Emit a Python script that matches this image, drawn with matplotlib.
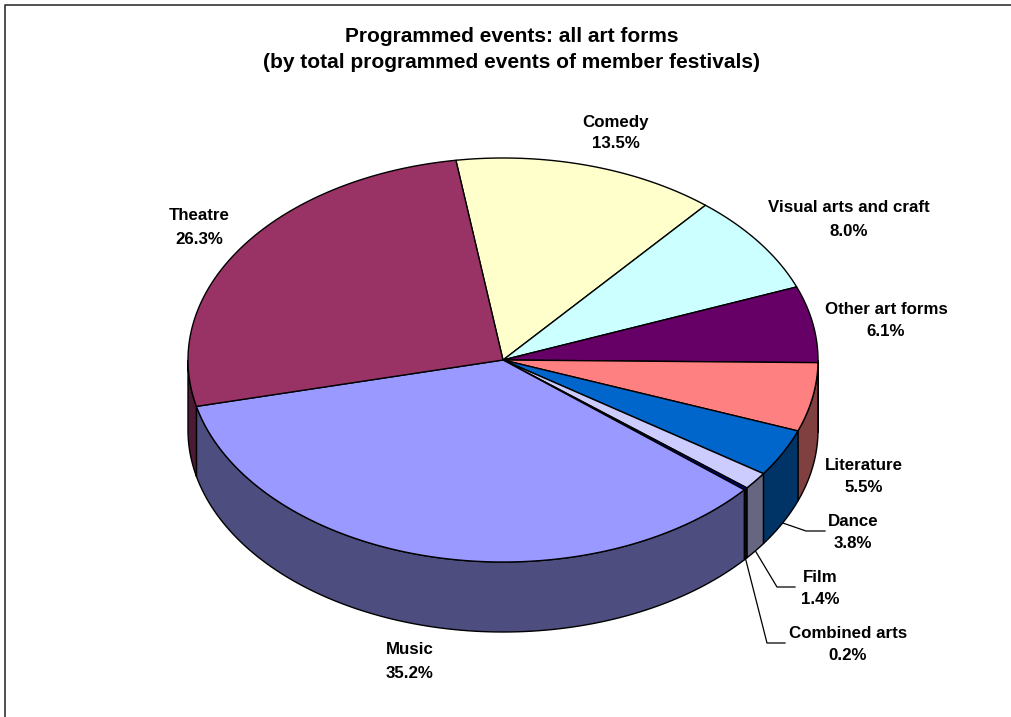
import matplotlib
matplotlib.use('Agg')
import matplotlib.pyplot as plt
import matplotlib.colors as mcolors
import numpy as np

categories = ['Comedy', 'Visual arts and craft', 'Other art forms', 'Literature', 'Dance',
              'Film', 'Combined arts', 'Music', 'Theatre']
values = [13.5, 8.0, 6.1, 5.5, 3.8, 1.4, 0.2, 35.2, 26.3]
colors = ['#FFFFCC', '#CCFFFF', '#660066', '#FF8080', '#0066CC',
          '#CCCCFF', '#000080', '#9999FF', '#993366']

# label centres in pixels (two lines: name, percent)
label_x = [616, 849, 886, 864, 853, 820, 848, 410, 199]
label_y = [[121, 143], [207, 230], [308, 331], [464, 487], [520, 543],
           [576, 599], [632, 655], [648, 672], [215, 238]]

# leader lines: elbow and end, the start comes from the wedge
leaders = {'Dance': [(806, 531), (825, 531)],
           'Film': [(777, 587), (795, 587)],
           'Combined arts': [(767, 643), (785, 643)]}

cx, cy = 503, 360
rx, ry = 315, 202
depth = 70
start_angle = -8.6

plt.rcParams['font.family'] = ['Liberation Sans', 'DejaVu Sans']

fig = plt.figure(figsize=(10.12, 7.17), dpi=100)
ax = fig.add_axes([0, 0, 1, 1])
ax.set_xlim(0, 1012)
ax.set_ylim(717, 0)
ax.axis('off')


def rim(t, dy=0):
    t = np.radians(t)
    return cx + rx * np.sin(t), cy - ry * np.cos(t) + dy


def darker(c):
    r, g, b = mcolors.to_rgb(c)
    return (r / 2, g / 2, b / 2)


edges = start_angle + np.concatenate([[0], np.cumsum(values)]) * 360 / sum(values)

# sides first, only the front half of the rim shows
for i in range(len(values)):
    a = max(edges[i], 90)
    b = min(edges[i + 1], 270)
    if b <= a:
        continue
    t = np.linspace(a, b, 100)
    x, y = rim(t)
    x2, y2 = rim(t[::-1], depth)
    ax.fill(np.r_[x, x2], np.r_[y, y2], facecolor=darker(colors[i]), edgecolor='black', lw=1, zorder=2)

# top of the pie
for i in range(len(values)):
    t = np.linspace(edges[i], edges[i + 1], 200)
    x, y = rim(t)
    ax.fill(np.r_[cx, x], np.r_[cy, y], facecolor=colors[i], edgecolor='black', lw=1, zorder=3)

# labels and leaders
for i, name in enumerate(categories):
    ax.text(label_x[i], label_y[i][0] + 1, name, ha='center', va='center', fontsize=12.2,
            fontweight='bold', zorder=5)
    ax.text(label_x[i], label_y[i][1] + 1, f'{values[i]:.1f}%', ha='center', va='center', fontsize=12.2,
            fontweight='bold', zorder=5)
    if name in leaders:
        x0, y0 = rim((edges[i] + edges[i + 1]) / 2, depth)
        pts = [(x0, y0)] + leaders[name]
        ax.plot([p[0] for p in pts], [p[1] for p in pts], color='black', lw=0.9, zorder=1)

ax.text(512, 37, 'Programmed events: all art forms', ha='center', va='center', fontsize=15, fontweight='bold')
ax.text(512, 63, '(by total programmed events of member festivals)', ha='center', va='center',
        fontsize=15, fontweight='bold')

# chart area border, left and top only are in the crop
ax.plot([5.5, 5.5, 1012], [717, 4.5, 4.5], color='#333333', lw=1.2, zorder=1)

fig.savefig('out.png', dpi=100)
